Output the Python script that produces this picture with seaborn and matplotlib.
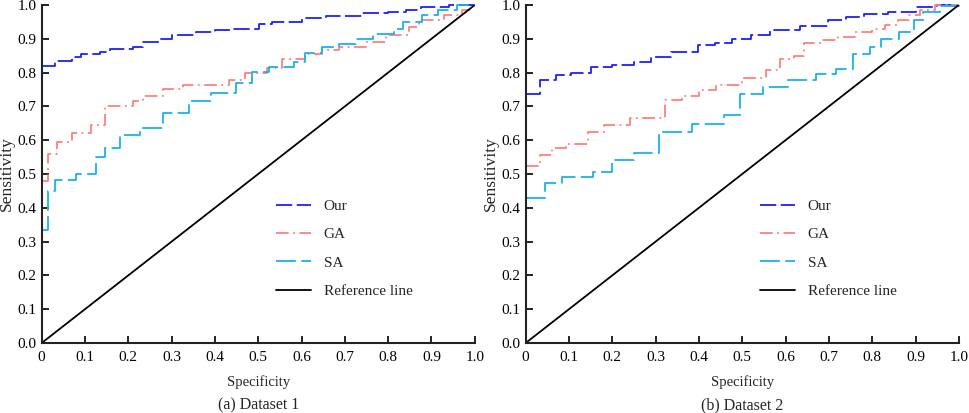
import matplotlib
matplotlib.use('Agg')
import matplotlib.pyplot as plt
import seaborn as sns
import numpy as np
import pandas as pd

# ROC step curves (x = specificity axis, y = sensitivity)
our1_x = [0, 0.03, 0.07, 0.09, 0.135, 0.157, 0.21, 0.235, 0.27, 0.30, 0.356, 0.40, 0.437,
          0.502, 0.532, 0.60, 0.656, 0.74, 0.80, 0.84, 0.876, 0.94, 1.0]
our1_y = [0.82, 0.835, 0.845, 0.855, 0.862, 0.87, 0.877, 0.89, 0.90, 0.91, 0.92, 0.925, 0.93,
          0.944, 0.95, 0.962, 0.968, 0.975, 0.98, 0.985, 0.995, 1.0, 1.0]
ga1_x = [0, 0.015, 0.035, 0.07, 0.115, 0.146, 0.21, 0.234, 0.28, 0.326, 0.433, 0.47, 0.52,
         0.555, 0.609, 0.647, 0.686, 0.748, 0.794, 0.847, 0.87, 0.93, 0.97, 1.0]
ga1_y = [0.48, 0.56, 0.595, 0.62, 0.645, 0.70, 0.715, 0.73, 0.75, 0.762, 0.778, 0.80, 0.813,
         0.84, 0.855, 0.867, 0.877, 0.89, 0.91, 0.935, 0.955, 0.97, 0.985, 0.985]
sa1_x = [0, 0.015, 0.03, 0.08, 0.126, 0.146, 0.18, 0.226, 0.28, 0.341, 0.39, 0.448, 0.486,
         0.525, 0.582, 0.609, 0.647, 0.686, 0.725, 0.766, 0.813, 0.835, 0.877, 0.916, 0.96, 1.0]
sa1_y = [0.335, 0.45, 0.483, 0.50, 0.55, 0.578, 0.615, 0.635, 0.68, 0.715, 0.74, 0.77, 0.803,
         0.815, 0.832, 0.857, 0.875, 0.885, 0.90, 0.915, 0.93, 0.95, 0.97, 0.985, 1.0, 1.0]

our2_x = [0, 0.033, 0.071, 0.105, 0.151, 0.20, 0.25, 0.289, 0.335, 0.398, 0.436, 0.476, 0.52,
          0.564, 0.633, 0.698, 0.74, 0.78, 0.836, 0.90, 0.95, 1.0]
our2_y = [0.737, 0.778, 0.793, 0.80, 0.815, 0.823, 0.832, 0.847, 0.862, 0.882, 0.888, 0.899,
          0.911, 0.926, 0.938, 0.955, 0.965, 0.972, 0.98, 0.993, 1.0, 1.0]
ga2_x = [0, 0.033, 0.06, 0.094, 0.143, 0.18, 0.24, 0.322, 0.36, 0.40, 0.44, 0.50, 0.555, 0.587,
         0.62, 0.643, 0.68, 0.72, 0.76, 0.80, 0.83, 0.86, 0.885, 0.91, 0.945, 1.0]
ga2_y = [0.525, 0.555, 0.578, 0.59, 0.625, 0.645, 0.665, 0.72, 0.73, 0.748, 0.763, 0.783, 0.808,
         0.84, 0.85, 0.887, 0.896, 0.906, 0.92, 0.93, 0.94, 0.955, 0.97, 0.985, 1.0, 1.0]
sa2_x = [0, 0.044, 0.083, 0.155, 0.20, 0.25, 0.308, 0.383, 0.457, 0.494, 0.549, 0.606, 0.67,
         0.717, 0.755, 0.794, 0.82, 0.862, 0.897, 0.918, 0.956, 1.0]
sa2_y = [0.43, 0.474, 0.492, 0.507, 0.541, 0.562, 0.625, 0.648, 0.675, 0.737, 0.757, 0.778,
         0.796, 0.81, 0.855, 0.877, 0.90, 0.921, 0.955, 0.98, 0.997, 1.0]

ref_x = [0, 1]
ref_y = [0, 1]

methods = ['Our', 'GA', 'SA']
colors = {'Our': '#1f1fff', 'GA': '#ff8080', 'SA': '#19b2ee'}
styles = {'Our': (0, (9, 2.5)), 'GA': (0, (7, 2.5, 1, 2.5)), 'SA': (0, (11, 3))}
ticks = [0, 0.1, 0.2, 0.3, 0.4, 0.5, 0.6, 0.7, 0.8, 0.9, 1.0]
xtick_labels = ['0', '0.1', '0.2', '0.3', '0.4', '0.5', '0.6', '0.7', '0.8', '0.9', '1.0']
ytick_labels = ['0.0', '0.1', '0.2', '0.3', '0.4', '0.5', '0.6', '0.7', '0.8', '0.9', '1.0']

panels = [
    ('(a) Dataset 1', {'Our': (our1_x, our1_y), 'GA': (ga1_x, ga1_y), 'SA': (sa1_x, sa1_y)}),
    ('(b) Dataset 2', {'Our': (our2_x, our2_y), 'GA': (ga2_x, ga2_y), 'SA': (sa2_x, sa2_y)}),
]

sns.set_style('ticks')
plt.rcParams['font.family'] = ['Liberation Serif', 'DejaVu Serif']

fig = plt.figure(figsize=(9.69, 4.13), dpi=100)
axes = [fig.add_axes([0.043, 0.1695, 0.447, 0.8185]),
        fig.add_axes([0.5425, 0.1695, 0.447, 0.8185])]

for ax, (caption, curves) in zip(axes, panels):
    for m in methods:
        cx, cy = curves[m]
        df = pd.DataFrame({'x': cx, 'y': cy})
        sns.lineplot(data=df, x='x', y='y', ax=ax, color=colors[m], label=m,
                     drawstyle='steps-post', estimator=None, sort=False,
                     linestyle=styles[m], linewidth=1.3, clip_on=False)
    sns.lineplot(x=ref_x, y=ref_y, ax=ax, color='black', label='Reference line',
                 linewidth=1.3, estimator=None)

    ax.set_xlim(0, 1)
    ax.set_ylim(0, 1)
    ax.set_xticks(ticks, xtick_labels)
    ax.set_yticks(ticks, ytick_labels)
    ax.tick_params(direction='in', length=5, width=1.2, labelsize=11, colors='black')
    ax.tick_params(axis='x', pad=6)
    for s in ['top', 'right']:
        ax.spines[s].set_visible(False)
    for s in ['left', 'bottom']:
        ax.spines[s].set_linewidth(1.5)
        ax.spines[s].set_color('#222222')
    ax.set_xlabel('Specificity', fontsize=10.5)
    ax.set_ylabel('Sensitivity', fontsize=12.5)
    ax.xaxis.set_label_coords(0.5, -0.095)
    ax.yaxis.set_label_coords(-0.062, 0.5)
    ax.text(0.5, -0.185, caption, transform=ax.transAxes, ha='center', va='center', fontsize=11.5)
    ax.legend(frameon=False, loc='upper left', bbox_to_anchor=(0.51, 0.465), fontsize=11,
              handlelength=2.3, labelspacing=0.95, handletextpad=0.8)

plt.savefig('out.png', dpi=100)
plt.close()
